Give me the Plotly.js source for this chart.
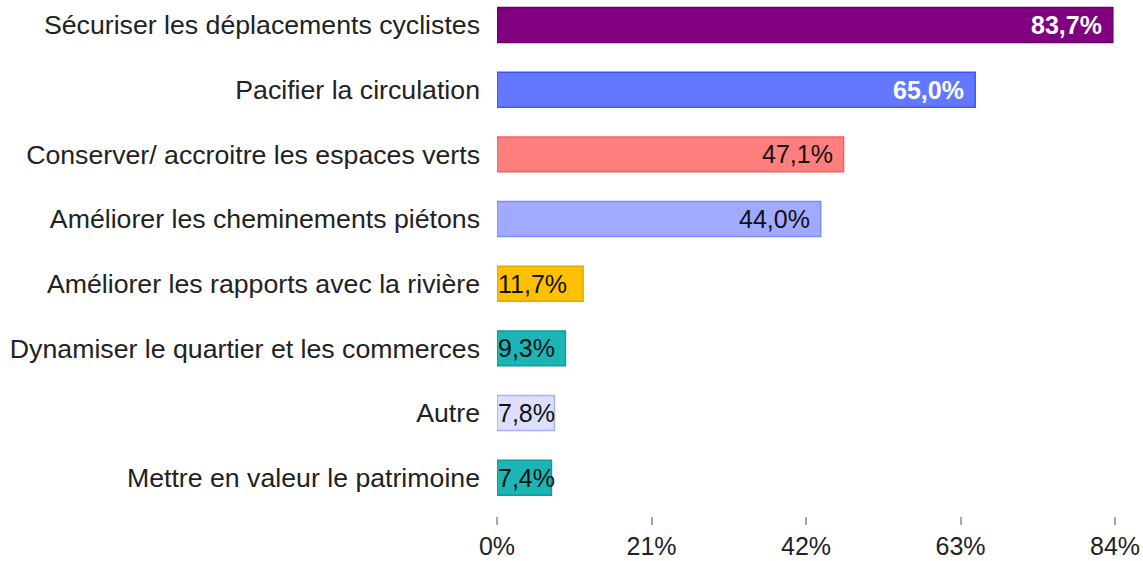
<!DOCTYPE html>
<html>
<head>
<meta charset="utf-8">
<script src="https://cdn.plot.ly/plotly-3.0.1.min.js"></script>
<style>
  html, body { margin: 0; padding: 0; background: #ffffff; }
  #chart { width: 1143px; height: 561px; }
</style>
</head>
<body>
<div id="chart"></div>
<script>
// ---- data ----
const categories = [
  "Sécuriser les déplacements cyclistes",
  "Pacifier la circulation",
  "Conserver/ accroitre les espaces verts",
  "Améliorer les cheminements piétons",
  "Améliorer les rapports avec la rivière",
  "Dynamiser le quartier et les commerces",
  "Autre",
  "Mettre en valeur le patrimoine"
];
const values = [83.7, 65.0, 47.1, 44.0, 11.7, 9.3, 7.8, 7.4];
const valueLabels = ["83,7%", "65,0%", "47,1%", "44,0%", "11,7%", "9,3%", "7,8%", "7,4%"];
const tickValues = [0, 21, 42, 63, 84];
const tickLabels = ["0%", "21%", "42%", "63%", "84%"];

// ---- styles ----
const fillColors = ["#800080", "#6478FF", "#FF7F7F", "#A0AAFF", "#FFC000", "#1BB5B5", "#DCDFFF", "#1BB5B5"];
const lineColors = ["#6A006A", "#3D56FF", "#FF5C5C", "#7D8CFF", "#E0A800", "#0E9C9C", "#A8B0FF", "#0E9C9C"];
const textColors = ["#FFFFFF", "#FFFFFF", "#111111", "#111111", "#111111", "#111111", "#111111", "#111111"];
const FONT = "'Liberation Sans', Arial, Helvetica, sans-serif";

const trace = {
  type: "bar",
  orientation: "h",
  y: categories,
  x: values,
  width: 0.54,
  marker: { color: fillColors, line: { color: lineColors, width: 1.5 } },
  hoverinfo: "none"
};

const annotations = values.map((v, i) => {
  const inside = v > 20;
  return {
    x: inside ? v : 0,
    y: categories[i],
    xref: "x", yref: "y",
    text: valueLabels[i],
    showarrow: false,
    xanchor: inside ? "right" : "left",
    xshift: inside ? -9 : -1,
    yanchor: "middle",
    font: { family: FONT, size: 25, color: textColors[i] }
  };
});
// white labels appear bold
annotations[0].text = "<b>" + valueLabels[0] + "</b>";
annotations[1].text = "<b>" + valueLabels[1] + "</b>";

const layout = {
  width: 1143,
  height: 561,
  margin: { l: 497, r: 28, t: 0, b: 45, pad: 0 },
  paper_bgcolor: "#ffffff",
  plot_bgcolor: "#ffffff",
  showlegend: false,
  font: { family: FONT, size: 26, color: "#222222" },
  xaxis: {
    range: [0, 84],
    tickvals: tickValues,
    ticktext: tickLabels,
    showgrid: false,
    zeroline: false,
    showline: false,
    ticks: "outside",
    ticklen: 8,
    tickwidth: 2,
    tickcolor: "#A6A6A6",
    ticklabelstandoff: 0,
    tickfont: { family: FONT, size: 25, color: "#222222" },
    fixedrange: true
  },
  yaxis: {
    type: "category",
    categoryorder: "array",
    categoryarray: categories,
    range: [7.592, -0.387],
    showgrid: false,
    zeroline: false,
    showline: false,
    ticks: "",
    ticklabelstandoff: 16,
    tickfont: { family: FONT, size: 26.7, color: "#222222" },
    fixedrange: true
  },
  annotations: annotations
};

Plotly.newPlot("chart", [trace], layout, { displayModeBar: false, staticPlot: true });
</script>
</body>
</html>
